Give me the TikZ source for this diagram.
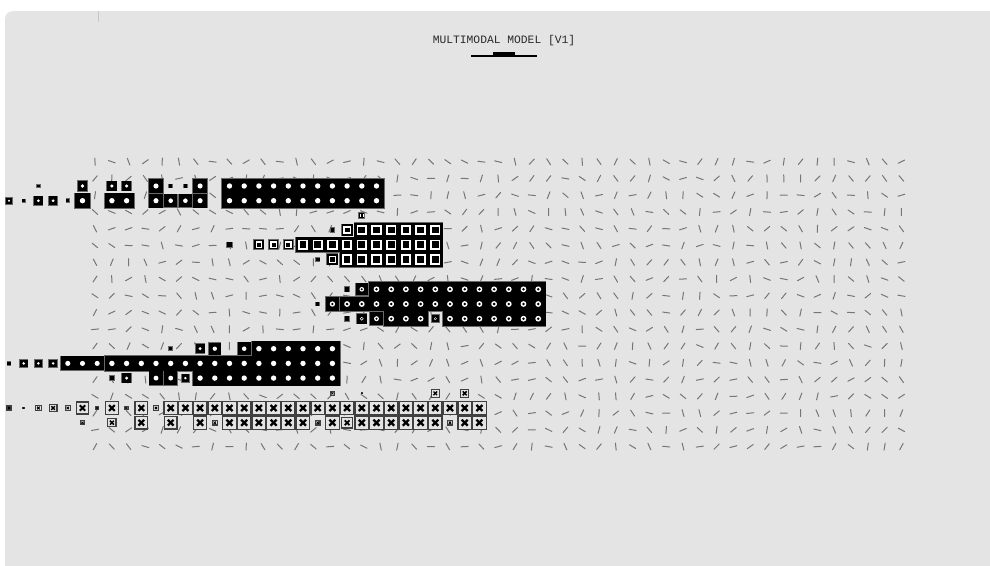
\documentclass[tikz,border=0pt]{standalone}
\usepackage{fontspec}
\setmonofont{Liberation Mono}
\definecolor{panelgray}{RGB}{228,228,228}
\definecolor{dashgray}{RGB}{118,118,118}
\definecolor{rimgray}{RGB}{105,105,105}
\definecolor{titlegray}{RGB}{40,40,40}

% token lists: first col / last col / row y / size
\def\tokA{0/0/200.7/0.42, 1/1/200.7/0.18, 2/3/200.7/0.57, 4/4/200.7/0.2, 5/5/200.7/1,
  7/8/200.7/1, 10/10/200.7/0.95, 11/12/200.7/0.85, 13/13/200.7/0.95, 15/25/200.7/1,
  2/2/186/0.18, 5/5/186/0.65, 7/8/186/0.63, 10/10/186/0.95, 11/12/186/0.2,
  13/13/186/0.95, 15/25/186/1}
\def\tokB{24/24/215.6/0.35, 22/22/230/0.25, 23/23/230/0.75, 24/29/230/1,
  15/15/244.7/0.3, 17/19/244.7/0.63, 20/29/244.7/1,
  21/21/259.4/0.25, 22/22/259.4/0.7, 23/29/259.4/1}
\def\tokC{23/23/289.3/0.3, 24/24/289.3/0.8, 25/36/289.3/1,
  21/21/304/0.2, 22/22/304/0.92, 23/36/304/1,
  23/23/318.7/0.3, 24/24/318.7/0.65, 25/25/318.7/0.85, 26/28/318.7/1,
  29/29/318.7/0.5, 30/36/318.7/1}
\def\tokD{11/11/348.7/0.2, 13/13/348.7/0.6, 14/14/348.7/0.8, 16/16/348.7/0.85,
  17/22/348.7/1, 0/0/363.4/0.2, 1/3/363.4/0.52, 4/6/363.4/0.95, 7/22/363.4/1,
  7/7/378.1/0.25, 8/8/378.1/0.62, 10/11/378.1/0.9, 12/12/378.1/0.5, 13/22/378.1/1}
\def\tokE{22/22/393.3/0.35, 24/24/393.3/0.15, 29/29/393.3/0.6, 31/31/393.3/0.65,
  0/0/408/0.35, 1/1/408/0.2, 2/2/408/0.45, 3/3/408/0.6, 4/4/408/0.4, 5/5/408/0.9,
  6/6/408/0.3, 7/7/408/0.95, 8/8/408/0.3, 9/9/408/0.95, 10/10/408/0.4, 11/32/408/1,
  5/5/422.7/0.35, 7/7/422.7/0.65, 9/9/422.7/0.95, 11/11/422.7/0.95, 13/13/422.7/1,
  14/14/422.7/0.4, 15/20/422.7/1, 21/21/422.7/0.4, 22/22/422.7/1, 23/23/422.7/0.8,
  24/29/422.7/1, 30/30/422.7/0.4, 31/32/422.7/1}

% filled tokens: rim, body, then glyph (#2)
\newcommand{\tokens}[2]{%
  \foreach \ka/\kb/\ty/\s in #1 {\foreach \k in {\ka,...,\kb} {
    \pgfmathsetmacro\tx{9+14.7*\k}\pgfmathsetmacro\ha{7.35*\s+0.8}
    \fill[rimgray] (\tx-\ha,\ty-\ha) rectangle (\tx+\ha,\ty+\ha);}}
  \foreach \ka/\kb/\ty/\s in #1 {\foreach \k in {\ka,...,\kb} {
    \pgfmathsetmacro\tx{9+14.7*\k}\pgfmathsetmacro\ha{7.35*\s+0.05}
    \fill[black] (\tx-\ha,\ty-\ha) rectangle (\tx+\ha,\ty+\ha);}}
  \foreach \ka/\kb/\ty/\s in #1 {\foreach \k in {\ka,...,\kb} {
    \pgfmathsetmacro\tx{9+14.7*\k}\pgfmathsetmacro\ha{7.35*\s}
    \ifdim\s pt>0.3pt #2\fi}}}

\begin{document}
\begin{tikzpicture}[x=1pt,y=-1pt,
    dashline/.style={draw=dashgray, line width=1pt, line cap=round},
    crossbox/.style={draw=black!75, line width=1.2pt, fill=panelgray},
    crossmark/.style={draw=black, line cap=butt}
  ]
  \useasboundingbox (0,0) rectangle (990,565);
  \fill[white] (0,0) rectangle (990,565);
  \fill[panelgray, rounded corners=8pt] (5,11) rectangle (1000,580);
  \draw[gray!45, line width=0.8pt] (98.5,11) -- (98.5,22);

  \node[font=\ttfamily\fontsize{11.3}{12}\selectfont, text=titlegray] (title) at (504,41) {MULTIMODAL MODEL [V1]};
  \fill (470.7,55) rectangle (537.3,56.7);
  \fill (493.3,51.7) rectangle (515,56.7);

  % field of strokes
  \pgfmathsetseed{4271}
  \foreach \i in {0,...,48} {\foreach \j in {0,...,17} {
    \pgfmathsetmacro\ang{rnd*180}
    \draw[dashline] ({95+16.8*\i},{161.7+16.76*\j}) ++(\ang:3.6) -- ++(\ang+180:7.2);}}

  % modality bands
  \tokens{\tokA}{\fill[white] (\tx,\ty) circle[radius=2.7*\s];}
  \tokens{\tokB}{\fill[white] (\tx-0.7*\ha,\ty-0.7*\ha) rectangle (\tx+0.7*\ha,\ty+0.7*\ha);
    \fill[black] (\tx-0.45*\ha,\ty-0.45*\ha) rectangle (\tx+0.45*\ha,\ty+0.45*\ha);}
  \tokens{\tokC}{\fill[white] (\tx,\ty) circle[radius=2.9*\s];
    \fill[black] (\tx,\ty) circle[radius=1.4*\s];}
  \tokens{\tokD}{\fill[white] (\tx,\ty) circle[radius=2.7*\s];}

  \foreach \ka/\kb/\ty/\s in \tokE {\foreach \k in {\ka,...,\kb} {
    \pgfmathsetmacro\tx{9+14.7*\k}\pgfmathsetmacro\ha{7.35*\s-0.6}\pgfmathsetmacro\xa{3*\s}
    \filldraw[crossbox] (\tx-\ha,\ty-\ha) rectangle (\tx+\ha,\ty+\ha);
    \draw[crossmark, line width=2.3*\s] (\tx-\xa,\ty-\xa) -- (\tx+\xa,\ty+\xa)
      (\tx-\xa,\ty+\xa) -- (\tx+\xa,\ty-\xa);}}
\end{tikzpicture}
\end{document}
